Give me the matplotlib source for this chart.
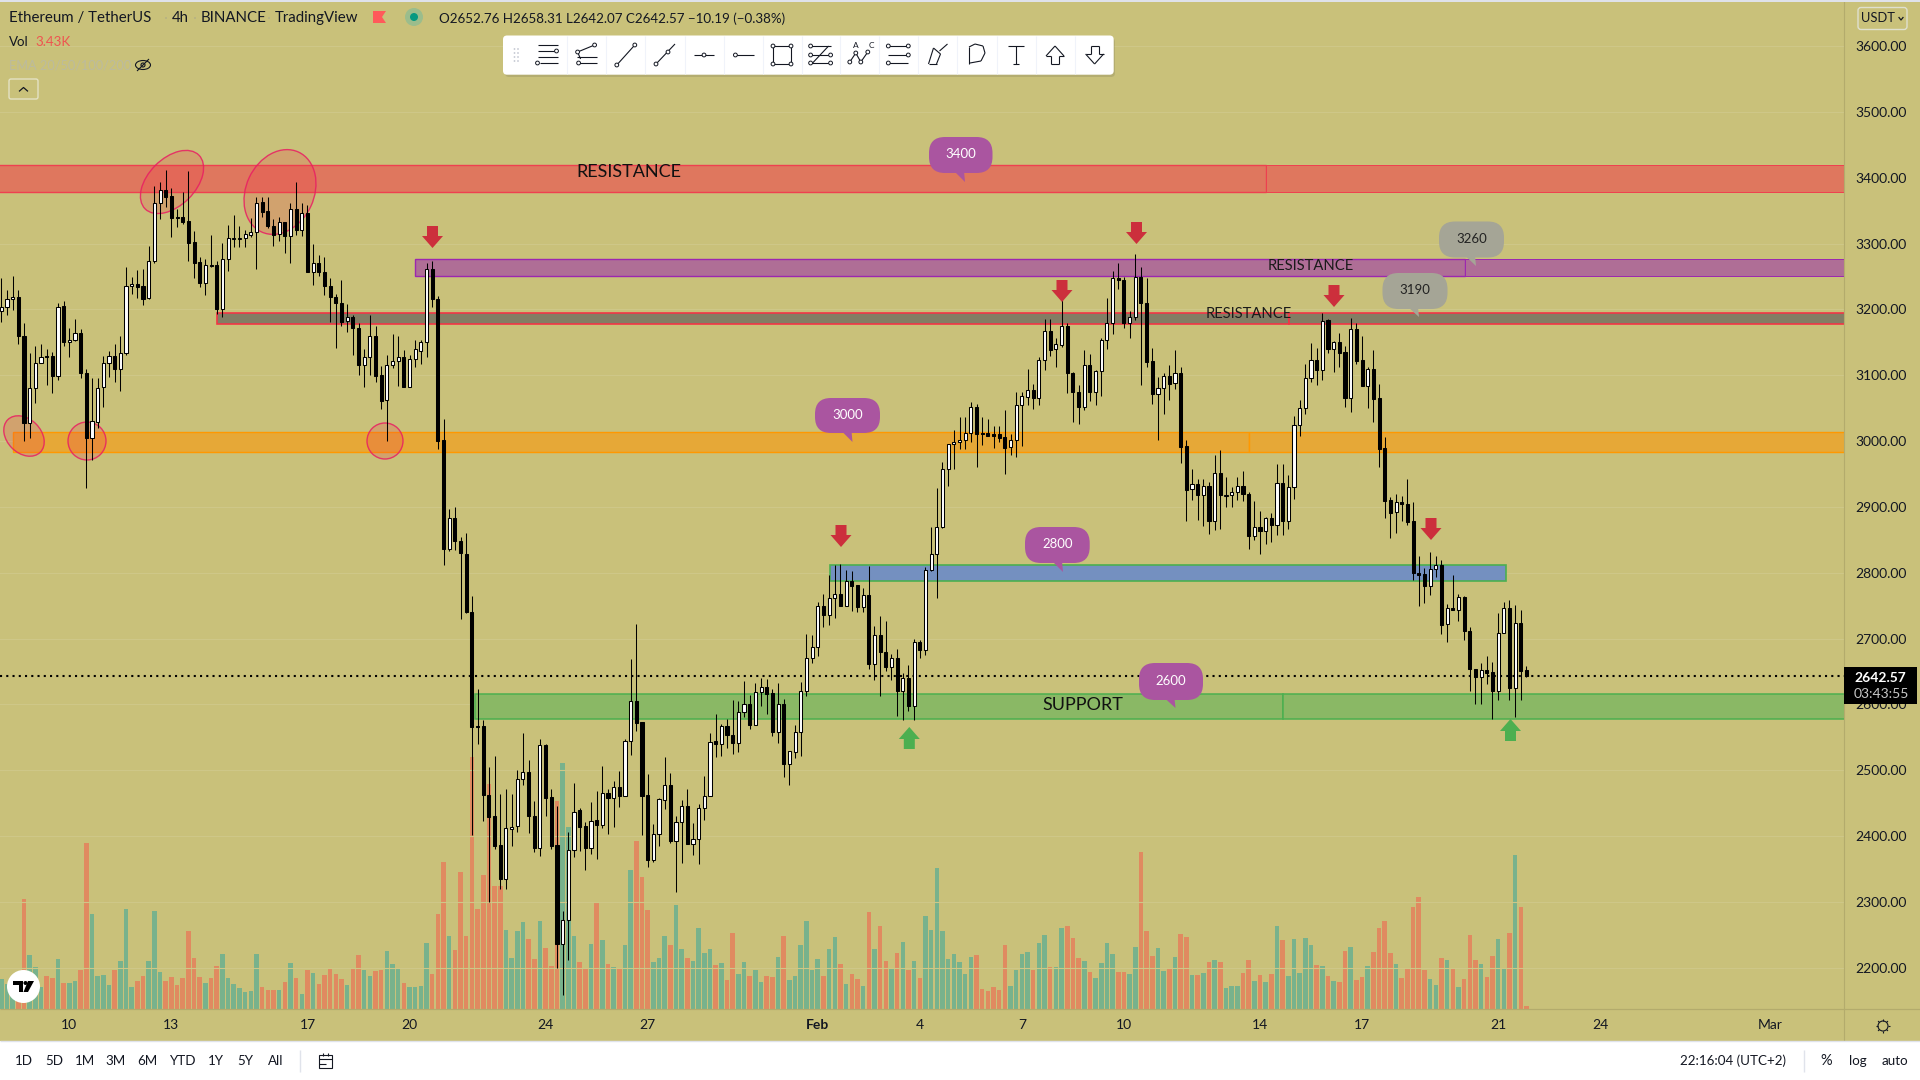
import numpy as np
import matplotlib
matplotlib.use("Agg")
import matplotlib.pyplot as plt
from matplotlib.patches import Rectangle, Ellipse, FancyBboxPatch, Polygon, Circle

plt.rcParams['font.family'] = ['Lato', 'DejaVu Sans']

# 4h candles
opens = [
    3198,3203,3215,3219,3160,3028,3080,3119,3129,3129,
    3098,3205,3151,3153,3164,3104,3005,3029,3082,3119,
    3129,3110,3133,3236,3239,3235,3217,3273,3361,3382,
    3372,3340,3340,3334,3302,3272,3240,3268,3268,3201,
    3277,3307,3307,3308,3313,3318,3363,3349,3327,3314,
    3332,3312,3353,3321,3347,3257,3270,3256,3236,3218,
    3209,3182,3188,3171,3116,3127,3159,3100,3062,3116,
    3122,3127,3082,3124,3137,3151,3261,3215,3001,2836,
    2883,2848,2829,2741,2567,2567,2463,2430,2386,2335,
    2411,2415,2486,2497,2431,2382,2538,2459,2386,2236,
    2273,2378,2439,2415,2382,2424,2417,2465,2457,2475,
    2460,2545,2605,2573,2462,2363,2403,2455,2478,2393,
    2422,2445,2388,2395,2442,2460,2544,2540,2567,2554,
    2542,2589,2600,2569,2618,2626,2617,2558,2600,2510,
    2528,2558,2620,2671,2687,2750,2735,2761,2767,2750,
    2787,2781,2748,2766,2662,2706,2679,2656,2670,2621,
    2640,2597,2694,2682,2804,2828,2870,2958,2995,2998,
    3001,3012,3051,3012,3012,3010,3010,3006,2991,3001,
    3054,3067,3078,3066,3123,3167,3139,3146,3174,3104,
    3075,3051,3116,3075,3106,3153,3179,3248,3244,3179,
    3189,3249,3209,3121,3072,3080,3098,3088,3103,2992,
    2927,2934,2918,2931,2879,2952,2917,2918,2922,2931,
    2919,2856,2870,2864,2883,2873,2936,2879,2930,3025,
    3050,3095,3123,3108,3184,3140,3150,3135,3066,3170,
    3123,3083,3109,3065,2989,2910,2892,2907,2905,2878,
    2799,2798,2779,2805,2811,2722,2746,2744,2763,2712,
    2653,2642,2652,2649,2621,2709,2747,2625,2723,2652.76,
]
closes = [
    3203,3215,3219,3160,3028,3080,3119,3127,3127,3098,
    3203,3151,3154,3164,3104,3005,3030,3081,3119,3129,
    3110,3133,3236,3239,3234,3216,3273,3361,3382,3371,
    3338,3338,3333,3301,3271,3240,3267,3266,3201,3277,
    3308,3308,3308,3314,3318,3362,3348,3326,3313,3332,
    3312,3353,3321,3347,3257,3270,3256,3236,3218,3209,
    3181,3188,3171,3116,3127,3159,3099,3061,3116,3122,
    3127,3082,3124,3139,3151,3261,3215,3000,2836,2883,
    2848,2830,2740,2566,2566,2463,2429,2385,2335,2412,
    2414,2486,2497,2431,2382,2538,2458,2385,2236,2273,
    2378,2437,2414,2382,2423,2417,2465,2457,2475,2460,
    2545,2605,2572,2461,2363,2403,2456,2478,2393,2422,
    2445,2388,2395,2442,2460,2543,2540,2567,2554,2542,
    2589,2600,2569,2618,2626,2616,2558,2600,2510,2529,
    2558,2620,2671,2687,2750,2735,2761,2767,2750,2787,
    2780,2748,2766,2662,2706,2680,2656,2670,2621,2640,
    2597,2694,2682,2804,2828,2870,2958,2995,2998,3001,
    3012,3051,3010,3010,3008,3008,3005,2990,3001,3054,
    3068,3078,3066,3123,3167,3138,3147,3174,3104,3075,
    3051,3116,3075,3106,3153,3179,3247,3244,3179,3189,
    3249,3209,3120,3072,3080,3098,3087,3103,2991,2926,
    2934,2918,2931,2879,2952,2918,2918,2922,2931,2919,
    2856,2870,2864,2883,2873,2936,2879,2930,3025,3050,
    3095,3123,3108,3183,3140,3150,3134,3066,3170,3122,
    3083,3109,3064,2988,2909,2891,2907,2905,2877,2799,
    2797,2779,2805,2811,2721,2746,2743,2763,2712,2653,
    2642,2652,2648,2621,2709,2747,2625,2723,2651,2642.57,
]
highs = [
    3247,3230,3251,3230,3180,3133,3145,3147,3139,3135,
    3209,3212,3172,3185,3170,3110,3096,3096,3129,3137,
    3147,3159,3264,3249,3260,3261,3296,3388,3393,3412,
    3384,3352,3379,3410,3319,3279,3276,3313,3274,3301,
    3328,3343,3327,3320,3338,3370,3371,3370,3337,3340,
    3332,3362,3393,3362,3358,3300,3282,3280,3247,3224,
    3244,3208,3191,3180,3139,3192,3175,3114,3130,3162,
    3159,3138,3131,3153,3154,3270,3273,3220,3033,2897,
    2899,2854,2861,2764,2624,2576,2505,2522,2464,2471,
    2464,2501,2556,2516,2453,2547,2539,2471,2446,2286,
    2406,2480,2442,2421,2451,2468,2506,2471,2484,2499,
    2547,2669,2722,2573,2494,2418,2457,2520,2495,2430,
    2455,2472,2420,2449,2491,2557,2585,2570,2578,2607,
    2605,2636,2614,2632,2640,2638,2624,2632,2608,2529,
    2569,2634,2707,2705,2756,2768,2797,2812,2813,2804,
    2802,2781,2776,2810,2719,2734,2727,2676,2684,2647,
    2659,2699,2697,2809,2869,2928,2968,2996,3016,3037,
    3036,3060,3056,3036,3033,3023,3023,3047,3010,3074,
    3074,3110,3086,3128,3186,3185,3157,3232,3179,3105,
    3085,3138,3132,3108,3157,3217,3258,3270,3249,3197,
    3284,3265,3248,3141,3097,3104,3115,3138,3113,3001,
    2958,2942,2942,2937,2978,2986,2946,2930,2945,2954,
    2922,2909,2894,2885,2890,2965,2965,2948,3038,3062,
    3117,3149,3141,3195,3185,3152,3164,3144,3187,3179,
    3159,3112,3138,3086,3006,2915,2919,2916,2943,2907,
    2825,2807,2831,2825,2819,2752,2796,2767,2764,2717,
    2654,2663,2674,2665,2739,2756,2759,2751,2744,2658.31,
]
lows = [
    3181,3191,3199,3147,3000,3004,3058,3118,3085,3073,
    3093,3145,3128,3152,3095,2929,2971,3020,3052,3097,
    3089,3076,3131,3223,3217,3207,3216,3270,3337,3355,
    3310,3325,3330,3273,3248,3234,3222,3265,3193,3189,
    3259,3294,3295,3294,3310,3261,3341,3323,3296,3304,
    3286,3271,3313,3312,3257,3237,3251,3222,3181,3142,
    3175,3165,3130,3100,3082,3100,3089,3048,3000,3111,
    3084,3082,3082,3113,3117,3128,3204,2988,2811,2833,
    2834,2730,2738,2402,2540,2423,2300,2381,2320,2320,
    2385,2406,2477,2405,2376,2370,2430,2380,2200,2158,
    2212,2368,2377,2348,2373,2365,2412,2403,2414,2444,
    2460,2523,2560,2402,2353,2360,2385,2441,2390,2315,
    2359,2388,2371,2357,2424,2460,2520,2522,2534,2524,
    2527,2580,2563,2568,2598,2586,2552,2542,2490,2477,
    2519,2521,2613,2663,2674,2718,2720,2731,2750,2750,
    2742,2741,2741,2653,2637,2613,2651,2637,2583,2576,
    2590,2576,2671,2675,2803,2762,2868,2931,2957,2988,
    2988,2999,2961,2994,3008,2990,2999,2950,2979,2976,
    2993,3055,3049,3055,3108,3129,3112,3143,3073,3029,
    3026,3047,3061,3055,3068,3140,3163,3231,3172,3157,
    3184,3085,3112,3056,3002,3041,3062,3079,2967,2879,
    2910,2880,2871,2859,2865,2867,2899,2900,2911,2909,
    2836,2849,2828,2844,2847,2857,2857,2866,2912,3008,
    3041,3089,3085,3093,3134,3105,3112,3052,3044,3117,
    3083,3050,3029,2961,2883,2852,2860,2878,2872,2789,
    2750,2754,2766,2793,2707,2695,2743,2727,2698,2621,
    2600,2601,2631,2577,2606,2709,2606,2580,2607,2642.07,
]
# volume in thousands
volumes = [
    34.8,28.8,28.8,28.8,128,62.8,48.8,25.6,38.4,36,
    58,30,30.4,32,45.2,192.8,110.4,38.4,39.6,28,
    45.2,56,116.4,25.6,32.4,38.4,56,114,43.2,32.4,
    37.2,28,36,90.8,59.2,37.2,30.4,36,50,64,
    36,29.2,24.4,20,20.8,64,25.6,22,22,22,
    31.6,53.6,36,17.6,45.2,42,29.2,39.6,47.6,40.8,
    34.8,28,47.6,62.8,45.2,38.4,44.4,45.2,67.6,52.4,
    46.4,30.4,25.6,25.6,26.8,76.8,40.8,110.4,170.8,84.8,
    68.8,158.8,84.8,292.8,116,155.6,260.8,142.8,142.8,92,
    59.6,90.8,101.2,81.6,58,102.4,70.8,50,241.6,285.6,
    211.6,84.8,54.8,46.8,76,124.4,80.4,52.4,48.8,47.6,
    74.4,161.6,194.8,153.2,115.2,54.8,59.2,84.8,74.8,120.4,
    69.6,59.2,56,94,65.2,69.6,51.2,53.6,33.6,88.4,
    40.8,54.8,38.4,45.2,31.6,38.4,37.2,60.4,84.8,33.6,
    38.4,74.4,102.4,45.2,58,38.4,69.6,83.6,52.4,29.2,
    40.8,34.8,26.8,112.8,69.6,96.4,56,46.4,65.2,78,
    45.2,56,36,108,92,164,90.8,58,64,54.8,
    40.8,60.4,62.8,23.2,20.8,25.6,22,74.4,26.8,45.2,
    64,66.4,45.2,76.8,86,48.8,48.8,94,96.4,82.4,
    59.2,56,43.2,36,53.6,76.8,64,43.2,43.2,40.8,
    72,182.4,90.8,61.6,70.8,44,46.4,60.4,87.2,83.6,
    39.6,39.6,42,54.8,56.8,54.8,24.4,26.8,26.8,42,
    56.8,32.4,39.6,31.6,40.8,96.4,80.4,38.4,81.2,42,
    82.4,74.4,51.2,49.6,38.4,32.4,31.6,67.6,72,33.6,
    37.2,49.6,66.4,94,102.4,65.2,52.4,36,46.4,118.4,
    130,45.2,34.8,28,59.2,56.8,47.6,25.6,34.8,86,
    56.8,52.4,37.2,61.6,81.2,47.6,88.4,178.8,118.4,3.43,
]

price_ticks = [2200, 2300, 2400, 2500, 2600, 2700, 2800, 2900, 3000, 3100, 3200, 3300, 3400, 3500, 3600]
date_ticks = [12, 30, 54, 72, 96, 114, 144, 162, 180, 198, 222, 240, 264, 282, 312]
date_labels = ['10', '13', '17', '20', '24', '27', 'Feb', '4', '7', '10', '14', '17', '21', '24', 'Mar']
last_price = 2642.57

BG = '#c9c17a'
RED_VOL = '#e08a60'
GREEN_VOL = '#78b28c'
DARK = '#131722'

fig = plt.figure(figsize=(19.2, 10.8), dpi=100, facecolor=BG)

# main chart area ends at x=1844, y=1009
ax = fig.add_axes([0, 71 / 1080, 1844 / 1920, 1009 / 1080], zorder=2)
ax.patch.set_alpha(0)
ax_v = fig.add_axes(ax.get_position(), zorder=1, facecolor=BG)
# pixel overlay for drawing tools and interface
ov = fig.add_axes([0, 0, 1, 1], zorder=3)
ov.patch.set_alpha(0)
ov.set_xlim(0, 1920)
ov.set_ylim(1080, 0)
ov.axis('off')

idx = np.arange(len(opens))
o = np.array(opens)
c = np.array(closes)
up = c >= o

# volume
ax_v.bar(idx, volumes, width=0.8, color=[GREEN_VOL if u else RED_VOL for u in up], linewidth=0)
ax_v.set_xlim(-0.23, 325)
ax_v.set_ylim(0, 1172)
ax_v.axis('off')

# grid
for p in price_ticks:
    ax.axhline(p, color='#cec788', lw=0.8, zorder=0)


def zone(x0, x1, top, bottom, fill, edge, lw=1.0):
    ax.add_patch(Rectangle((x0, bottom), x1 - x0, top - bottom, facecolor=fill, edgecolor=edge, lw=lw, zorder=1))


# support / resistance boxes
zone(-5, 223, 3419, 3378, '#df775e', '#ee4050')
zone(223, 330, 3419, 3378, '#df775e', '#ee4050', 0.7)
zone(73, 258.1, 3276, 3251, '#af6e96', '#9c27b0')
zone(258.1, 330, 3276, 3251, '#af6e96', '#9c27b0', 0.7)
zone(38.1, 227.2, 3194, 3178, '#837d64', '#f23645', 1.2)
zone(227.2, 330, 3194, 3178, '#837d64', '#f23645', 1.2)
zone(2.15, 220, 3013, 2984, '#e6a837', '#ff9800')
zone(220, 330, 3013, 2984, '#e6a837', '#ff9800')
zone(146.1, 265.3, 2812, 2788, '#7490c0', '#4caf50', 1.2)
zone(83.5, 226, 2616, 2578, '#8ab865', '#4caf50', 1.1)
zone(226, 330, 2616, 2578, '#8ab865', '#4caf50', 1.1)

# circled touches
for cx, cy, w, h, ang in [(172, 182, 76, 47, -45), (280, 192, 88, 68, -65), (24, 436, 46, 34, 45),
                          (87, 441, 38, 38, 0), (385, 441, 36, 36, 0)]:
    ax.add_patch(Ellipse((cx, cy), w, h, angle=ang, transform=ov.transData, facecolor='#f23645', alpha=0.22,
                         edgecolor='none', zorder=2))
    ax.add_patch(Ellipse((cx, cy), w, h, angle=ang, transform=ov.transData, facecolor='none',
                         edgecolor='#e91e63', lw=1.0, alpha=0.85, zorder=2))

# last price line
ax.axhline(last_price, color='black', lw=1.5, linestyle=(0, (1, 2)), zorder=3)

# candles
ax.vlines(idx, lows, highs, color='black', lw=0.75, zorder=4)
ax.bar(idx, np.abs(c - o), bottom=np.minimum(o, c), width=0.55,
       color=['white' if u else 'black' for u in up], edgecolor='black', lw=0.75, zorder=5)

ax.set_xlim(-0.23, 325)
ax.set_ylim(2137.2, 3669.9)
for s in ax.spines.values():
    s.set_visible(False)
ax.yaxis.tick_right()
ax.set_yticks(price_ticks)
ax.set_yticklabels([f'{p:.2f}' for p in price_ticks])
ax.set_xticks(date_ticks)
ax.set_xticklabels(date_labels)
ax.tick_params(axis='y', length=0, pad=8, labelsize=10, labelcolor=DARK)
ax.tick_params(axis='x', length=0, pad=7.5, labelsize=10, labelcolor=DARK)
for lab in ax.get_xticklabels():
    if lab.get_text() == 'Feb':
        lab.set_fontweight('bold')


def label(x, y, s, size=10, color=DARK, ha='center', weight='normal', z=10):
    ov.text(x, y, s, fontsize=size, color=color, ha=ha, va='center', fontweight=weight, zorder=z)


def seg(x0, y0, x1, y1, color=DARK, lw=0.8, z=10):
    ov.plot([x0, x1], [y0, y1], color=color, lw=lw, zorder=z, solid_capstyle='butt')


# axis frame lines
seg(1844, 0, 1844, 1041, '#b3ab6c', 0.8, 1)
seg(0, 1009, 1920, 1009, '#b3ab6c', 0.9, 1)
ov.add_patch(Rectangle((0, 0), 1920, 1.5, facecolor='#dfe2ea', edgecolor='none'))

# drawn arrows
for cx, y0, y1 in [(432.5, 226, 248), (1062, 280, 302), (1136.5, 222, 244), (1334, 285, 307),
                   (841, 525, 547), (1431, 518, 540)]:
    ov.add_patch(Polygon([(cx - 5.5, y0), (cx + 5.5, y0), (cx + 5.5, y0 + 10), (cx + 10.5, y0 + 10), (cx, y1),
                          (cx - 10.5, y0 + 10), (cx - 5.5, y0 + 10)], facecolor='#cc2f3c', edgecolor='none', zorder=5))
for cx, y0, y1 in [(909.3, 727, 749), (1510.5, 719, 741)]:
    ov.add_patch(Polygon([(cx, y0), (cx + 10.5, y0 + 12), (cx + 5.5, y0 + 12), (cx + 5.5, y1), (cx - 5.5, y1),
                          (cx - 5.5, y0 + 12), (cx - 10.5, y0 + 12)], facecolor='#4caf50', edgecolor='none', zorder=5))


def bubble(x0, x1, y0, y1, tip, s, fill, txt):
    ov.add_patch(Polygon([(tip[0] - 11, y1 - 2), (tip[0] - 1, y1 - 2), tip], facecolor=fill, edgecolor='none', zorder=6))
    ov.add_patch(FancyBboxPatch((x0, y0), x1 - x0, y1 - y0, boxstyle='round,pad=0,rounding_size=16',
                                facecolor=fill, edgecolor='none', zorder=6))
    label((x0 + x1) / 2, (y0 + y1) / 2 - 0.5, s, 9.5, txt, z=7)


PURPLE = '#aa55a0'
GREY = '#a5a596'
bubble(929, 992.5, 137, 173, (965, 182), '3400', PURPLE, 'white')
bubble(815, 880, 398, 433, (852.5, 442), '3000', PURPLE, 'white')
bubble(1025, 1089.7, 527, 563, (1063, 572), '2800', PURPLE, 'white')
bubble(1139, 1203, 663, 700, (1175.5, 708), '2600', PURPLE, 'white')
bubble(1439, 1504, 221.5, 257.5, (1476, 266), '3260', GREY, '#222222')
bubble(1382.5, 1447.5, 273, 309, (1419, 317), '3190', GREY, '#222222')

label(629, 172, 'RESISTANCE', 13, '#111111')
label(1310.5, 266.5, 'RESISTANCE', 10.6, '#1a1a1a')
label(1248.5, 314.5, 'RESISTANCE', 10.6, '#1a1a1a')
label(1082.5, 705.5, 'SUPPORT', 13, '#111111')

# price tag
ov.add_patch(Rectangle((1844, 667), 73, 36.6, facecolor='black', edgecolor='none', zorder=8))
label(1880, 678, '2642.57', 10, 'white', z=9, weight='bold')
label(1881, 694, '03:43:55', 10, '#c8c8c8', z=9)

# legend header
label(9, 18, 'Ethereum / TetherUS', 10.8, DARK, 'left')
label(172, 18, '4h', 10.8, DARK, 'left')
label(201, 18, 'BINANCE', 10.8, DARK, 'left')
label(275, 18, 'TradingView', 10.8, DARK, 'left')
for x in [166, 195, 269]:
    ov.add_patch(Circle((x, 18), 1, facecolor='#b5b184', edgecolor='none'))
ov.add_patch(Polygon([(373, 11), (386, 11), (382, 17), (386, 23), (373, 23)], facecolor='#ff5a5a', edgecolor='none'))
ov.add_patch(Ellipse((414, 17), 18, 18, facecolor='#9bbd8c', edgecolor='none'))
ov.add_patch(Ellipse((414, 17), 8, 8, facecolor='#089981', edgecolor='none'))
label(439, 18.5, 'O2652.76 H2658.31 L2642.07 C2642.57 \u221210.19 (\u22120.38%)', 9.6, DARK, 'left')
label(9, 41.5, 'Vol', 9.6, DARK, 'left')
label(35, 41.5, '3.43K', 9.6, '#ef5350', 'left')
label(9, 65, 'EMA 20/50/100/200', 9.2, '#bcbb9e', 'left')
ov.add_patch(Ellipse((143, 65), 15, 9, facecolor='none', edgecolor=DARK, lw=0.8))
ov.add_patch(Circle((143, 65), 2, facecolor='none', edgecolor=DARK, lw=0.8))
seg(137, 71, 149, 59)
ov.add_patch(FancyBboxPatch((9, 79), 29, 20, boxstyle='round,pad=0,rounding_size=2', facecolor='none',
                            edgecolor='#e4e2c4', lw=1))
ov.plot([19.5, 23.5, 27.5], [91, 87.5, 91], color=DARK, lw=0.9)

# USDT button
ov.add_patch(FancyBboxPatch((1858, 7.5), 49, 22, boxstyle='round,pad=0,rounding_size=3', facecolor='none',
                            edgecolor='#dfe0cf', lw=1))
label(1878.5, 18.5, 'USDT', 9.3)
ov.plot([1899, 1901, 1903], [17.5, 20, 17.5], color=DARK, lw=0.9)

# toolbar
ov.add_patch(FancyBboxPatch((505, 38), 610, 39, boxstyle='round,pad=0,rounding_size=4', facecolor='#8d8a60',
                            edgecolor='none', alpha=0.35, zorder=7))
ov.add_patch(FancyBboxPatch((503, 35.5), 610.7, 39.2, boxstyle='round,pad=0,rounding_size=4', facecolor='white',
                            edgecolor='none', zorder=8))
for x in [514.5, 518]:
    for y in [49, 53, 57, 61]:
        ov.add_patch(Circle((x, y), 0.9, facecolor='#c4c8d2', edgecolor='none', zorder=9))
centers = [547.5, 586.6, 625.8, 665, 704, 743.4, 782, 820.6, 859.8, 898.3, 937.5, 977, 1016, 1055, 1094.6]
for x in centers[:-1]:
    seg(x + 19.5, 36, x + 19.5, 74, '#f0f3fa', 0.8, 9)
icon_lines = [
    [(-10, -10, 10, -10), (-10, -4, 8, -4), (-10, 2, 10, 2), (-8, 8, 10, 8)],
    [(-9, -3, 8, -10), (-9, -3, -6, 4), (-10, 2, 10, 2), (-10, 8, 10, 8)],
    [(-9, 10, 9, -10)],
    [(-9, 9, 10, -11)],
    [(-10, 0, 10, 0)],
    [(-8, 0, 11, 0)],
    [(-9, -9, 9, -9), (9, -9, 9, 9), (9, 9, -9, 9), (-9, 9, -9, -9)],
    [(-10, -9, 10, -9), (-10, 0, 10, 0), (-10, 8, 10, 8), (-8, 8, 8, -9)],
    [(-10, 7, -4, -2), (-4, -2, 1, 7), (1, 7, 8, -3)],
    [(-10, -9, 10, -9), (-10, 0, 10, 0), (-10, 8, 10, 8)],
    [(-9, 9, -4, -7), (-4, -7, 3, -1), (3, -1, -1, 9), (-1, 9, -9, 9), (2, -4, 10, -11)],
    [(-8, -8, -2, -11), (-2, -11, 6, -9), (6, -9, 8, -2), (8, -2, 4, 6), (4, 6, -7, 8), (-8, -8, -8, 9)],
    [(-8, -9, 8, -9), (0, -9, 0, 9), (-3, 9, 3, 9)],
    [(0, -9, 9, 1), (9, 1, 4, 1), (4, 1, 4, 9), (4, 9, -4, 9), (-4, 9, -4, 1), (-4, 1, -9, 1), (-9, 1, 0, -9)],
    [(0, 9, 9, -1), (9, -1, 4, -1), (4, -1, 4, -9), (4, -9, -4, -9), (-4, -9, -4, -1), (-4, -1, -9, -1), (-9, -1, 0, 9)],
]
icon_dots = [
    [(9, -4), (-10, 8)], [(-9, -3), (8, -10), (-8, 8)], [(-9, 10), (9, -10)], [(-9, 9), (3, -3)], [(0, 0)],
    [(-8, 0)], [(-9, -9), (9, -9), (9, 9), (-9, 9)], [(-10, -9), (10, 0), (-10, 0), (-10, 8), (10, 8)],
    [(-10, 7), (-4, -2), (1, 7), (8, -3)], [(-10, -9), (10, 0), (-10, 8), (10, -9)], [], [], [], [], [],
]
for x, lines, dots in zip(centers, icon_lines, icon_dots):
    for x0, y0, x1, y1 in lines:
        seg(x + x0, 55 + y0, x + x1, 55 + y1, DARK, 0.8, 9)
    for dx, dy in dots:
        ov.add_patch(Circle((x + dx, 55 + dy), 1.9, facecolor='white', edgecolor=DARK, lw=0.7, zorder=9.5))
label(856, 45, 'A', 6, DARK, z=9.5)
label(871, 45, 'C', 6, DARK, z=9.5)

# TV logo
ov.add_patch(Ellipse((23.5, 986.5), 33, 33, facecolor='white', edgecolor='none', zorder=6))
ov.add_patch(Polygon([(13, 981), (23, 981), (23, 992), (18.5, 992), (18.5, 985), (13, 985)], facecolor='black',
                     edgecolor='none', zorder=7))
ov.add_patch(Circle((25.5, 983), 2, facecolor='black', edgecolor='none', zorder=7))
ov.add_patch(Polygon([(28, 981), (34, 981), (28, 992), (23.5, 992)], facecolor='black', edgecolor='none', zorder=7))

# settings gear
ov.add_patch(Circle((1883, 1026), 5, facecolor='none', edgecolor=DARK, lw=0.8))
for a in np.deg2rad([0, 45, 90, 135, 180, 225, 270, 315]):
    seg(1883 + 5 * np.cos(a), 1026 + 5 * np.sin(a), 1883 + 7 * np.cos(a), 1026 + 7 * np.sin(a))

# bottom bar
ov.add_patch(Rectangle((0, 1041), 1920, 39, facecolor='white', edgecolor='none', zorder=6))
seg(0, 1041, 1920, 1041, '#e0e3eb', 1, 6.5)
for x, s in zip([24, 54, 85, 116, 147, 182, 216, 245, 275.5],
                ['1D', '5D', '1M', '3M', '6M', 'YTD', '1Y', '5Y', 'All']):
    label(x, 1061, s, 9.6)
seg(300, 1050, 300, 1072, '#e0e3eb', 1)
ov.add_patch(Rectangle((319, 1055), 13, 13, facecolor='none', edgecolor=DARK, lw=0.8, zorder=10))
seg(319, 1058.5, 332, 1058.5)
seg(323, 1052.5, 323, 1056)
seg(328, 1052.5, 328, 1056)
seg(319, 1064, 326, 1064)
label(1733, 1061, '22:16:04 (UTC+2)', 9.6)
seg(1804, 1050, 1804, 1072, '#e0e3eb', 1)
label(1826.5, 1061, '%', 10.5)
label(1857.7, 1061, 'log', 9.6)
label(1895, 1061, 'auto', 9.6)

fig.savefig('out.png', dpi=100, facecolor=BG)
